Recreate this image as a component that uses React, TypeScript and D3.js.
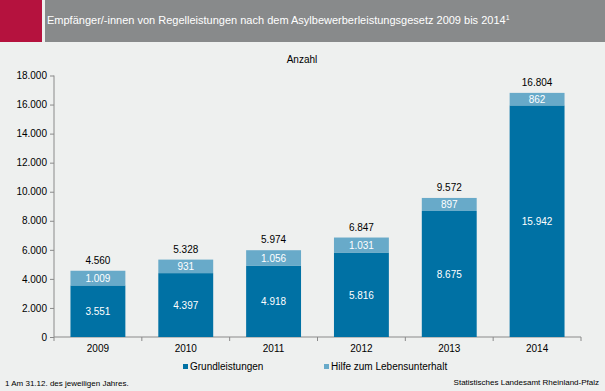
import React, { useRef, useEffect } from 'react';
import * as d3 from 'd3';

const years = ['2009', '2010', '2011', '2012', '2013', '2014'];
const grundleistungen = [3551, 4397, 4918, 5816, 8675, 15942];
const hilfe = [1009, 931, 1056, 1031, 897, 862];
const yTicks = [0, 2000, 4000, 6000, 8000, 10000, 12000, 14000, 16000, 18000];

const W = 605;
const H = 391;
const DARK = '#0071a4';
const LIGHT = '#68aac9';
const FONT = 'Liberation Sans, Arial, sans-serif';

const de = d3.formatLocale({ decimal: ',', thousands: '.', grouping: [3], currency: ['', ' €'] });
const fmt = de.format(',d');

const App = () => {
    const svgRef = useRef(null);

    useEffect(() => {
        if (!svgRef.current) {
            return;
        }
        const svg = d3.select(svgRef.current);
        svg.selectAll('*').remove();

        svg.append('rect').attr('width', W).attr('height', H).attr('fill', '#eef0ef');

        // header
        svg.append('rect').attr('x', 0).attr('y', 0).attr('width', 42).attr('height', 42).attr('fill', '#b5123e');
        svg.append('rect').attr('x', 45).attr('y', 0).attr('width', W - 45).attr('height', 42).attr('fill', '#888a8b');
        const title = svg.append('text')
            .attr('x', 47).attr('y', 24)
            .attr('fill', '#fff')
            .style('font-family', FONT).style('font-size', '11px');
        title.append('tspan').text('Empfänger/-innen von Regelleistungen nach dem Asylbewerberleistungsgesetz 2009 bis 2014');
        title.append('tspan').attr('dy', -4).style('font-size', '7px').text('1');

        const x = d3.scaleBand().domain(years).range([54, 581]).paddingInner(0.375).paddingOuter(0.1875);
        const y = d3.scaleLinear().domain([0, 18000]).range([337, 75.5]);

        svg.append('text').attr('x', 302).attr('y', 63).attr('text-anchor', 'middle')
            .style('font-family', FONT).style('font-size', '10px').attr('fill', '#000').text('Anzahl');

        // y axis
        const yAxis = svg.append('g').attr('transform', 'translate(54,0)')
            .call(d3.axisLeft(y).tickValues(yTicks).tickSize(4).tickPadding(3).tickFormat(d => fmt(d)));
        yAxis.selectAll('path, line').attr('stroke', '#8a8a8a');
        yAxis.select('.domain').attr('d', `M0,${y(18000)}V${y(0)}`);
        yAxis.selectAll('text').style('font-family', FONT).style('font-size', '10px').attr('fill', '#000');

        // x axis
        const xg = svg.append('g');
        xg.append('line').attr('x1', 54).attr('x2', 581).attr('y1', y(0)).attr('y2', y(0)).attr('stroke', '#8a8a8a');
        const step = x.step();
        d3.range(years.length + 1).forEach(i => {
            const xx = 54 + i * step;
            xg.append('line').attr('x1', xx).attr('x2', xx).attr('y1', y(0)).attr('y2', y(0) + 4).attr('stroke', '#8a8a8a');
        });
        xg.selectAll('text.yr').data(years).join('text')
            .attr('x', d => x(d) + x.bandwidth() / 2).attr('y', 352).attr('text-anchor', 'middle')
            .style('font-family', FONT).style('font-size', '10px').attr('fill', '#000').text(d => d);

        // bars
        const bars = svg.append('g');
        years.forEach((yr, i) => {
            const g = grundleistungen[i];
            const h = hilfe[i];
            const bx = x(yr);
            const bw = x.bandwidth();
            const cx = bx + bw / 2;
            bars.append('rect').attr('x', bx).attr('width', bw).attr('y', y(g)).attr('height', y(0) - y(g)).attr('fill', DARK);
            bars.append('rect').attr('x', bx).attr('width', bw).attr('y', y(g + h)).attr('height', y(g) - y(g + h)).attr('fill', LIGHT);
            bars.append('text').attr('x', cx).attr('y', (y(0) + y(g)) / 2 + 4).attr('text-anchor', 'middle')
                .style('font-family', FONT).style('font-size', '10px').attr('fill', '#fff').text(fmt(g));
            bars.append('text').attr('x', cx).attr('y', (y(g) + y(g + h)) / 2 + 4).attr('text-anchor', 'middle')
                .style('font-family', FONT).style('font-size', '10px').attr('fill', '#fff').text(fmt(h));
            bars.append('text').attr('x', cx).attr('y', y(g + h) - 7).attr('text-anchor', 'middle')
                .style('font-family', FONT).style('font-size', '10px').attr('fill', '#000').text(fmt(g + h));
        });

        // legend
        const legend = [
            { label: 'Grundleistungen', color: DARK, x: 183 },
            { label: 'Hilfe zum Lebensunterhalt', color: LIGHT, x: 324 },
        ];
        legend.forEach(l => {
            svg.append('rect').attr('x', l.x).attr('y', 364).attr('width', 5).attr('height', 5).attr('fill', l.color);
            svg.append('text').attr('x', l.x + 7).attr('y', 370)
                .style('font-family', FONT).style('font-size', '10px').attr('fill', '#000').text(l.label);
        });

        // footnotes
        svg.append('text').attr('x', 5).attr('y', 386)
            .style('font-family', FONT).style('font-size', '8px').attr('fill', '#000').text('1 Am 31.12. des jeweiligen Jahres.');
        svg.append('text').attr('x', 599).attr('y', 385).attr('text-anchor', 'end')
            .style('font-family', FONT).style('font-size', '8px').attr('fill', '#000').text('Statistisches Landesamt Rheinland-Pfalz');
    }, []);

    return (
        <svg
            ref={svgRef}
            width={W}
            height={H}
            style={{ position: 'absolute', left: 0, top: 0, display: 'block' }}
        ></svg>
    );
};

export default App;
